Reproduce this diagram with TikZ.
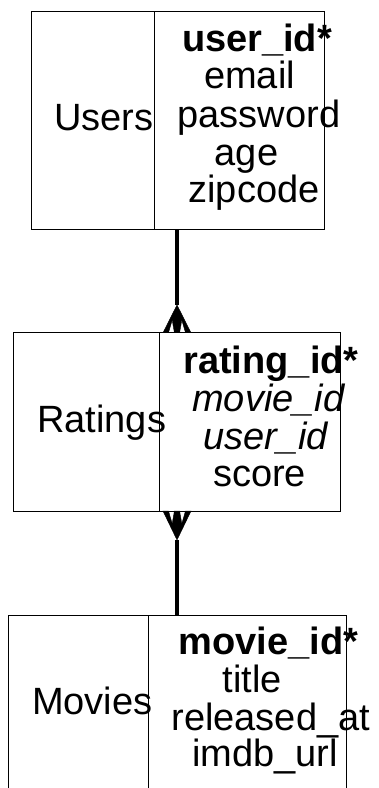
\documentclass[tikz,border=0pt]{standalone}
\usepackage{fontspec}
\setmainfont{Liberation Sans}
\begin{document}
\begin{tikzpicture}[x=1pt,y=-1pt,
  txt/.style={anchor=base,inner sep=0pt,font=\fontsize{38}{38}\selectfont},
  box/.style={draw,line width=1pt,inner sep=0pt},
  rel/.style={line width=3.2pt},
  crow/.style={fill=black,draw=black,line width=0.4pt,line join=miter}]
\useasboundingbox (0,0) rectangle (378,788);
\clip (0,0) rectangle (378,788);
% Users
\node[box,minimum width=293pt,minimum height=218pt] (users) at (177.5,120) {};
\draw[line width=1pt] (154,11) -- (154,229);
\node[txt] (uname) at (104,130) {Users};
\node[txt] (u1) at (257,51) {\bfseries user\_id*};
\node[txt] (u2) at (249.5,88) {email};
\node[txt] (u3) at (259,127) {password};
\node[txt] (u4) at (246.5,165) {age};
\node[txt] (u5) at (254,202) {zipcode};
% Ratings
\node[box,minimum width=327.4pt,minimum height=178.3pt] (ratings) at (177,421.85) {};
\draw[line width=1pt] (159.3,332.7) -- (159.3,511);
\node[txt] (rname) at (101.7,432.5) {Ratings};
\node[txt] (r1) at (271,373) {\bfseries rating\_id*};
\node[txt] (r2) at (268.3,411.5) {\itshape movie\_id};
\node[txt] (r3) at (265.8,449.8) {\itshape user\_id};
\node[txt] (r4) at (259.5,486.7) {score};
% Movies (cut off at bottom)
\coordinate (movtop) at (177,615);
\draw[line width=1pt] (8.3,800) |- (346.7,615) -- (346.7,800);
\draw[line width=1pt] (148.3,615) -- (148.3,800);
\node[txt] (mname) at (92.2,714.5) {Movies};
\node[txt] (m1) at (268.3,654.5) {\bfseries movie\_id*};
\node[txt] (m2) at (252.5,692) {title};
\node[txt] (m3) at (270.8,730.5) {released\_at};
\node[txt] (m4) at (265,766.7) {imdb\_url};
% connectors
\coordinate (us) at (177,229);
\coordinate (a1) at (177,305);
\draw[rel] (us) -- (a1);
\fill[crow] (a1) -- (191,332.7) -- (185.5,332.7) -- (181.8,320) -- (179.6,332.7)
  -- (174.4,332.7) -- (172.2,320) -- (168.5,332.7) -- (163,332.7) -- cycle;
\coordinate (a2) at (177,540);
\draw[rel] (a2) -- (movtop);
\fill[crow] (a2) -- (191,511) -- (185.5,511) -- (181.8,523.7) -- (179.6,511)
  -- (174.4,511) -- (172.2,523.7) -- (168.5,511) -- (163,511) -- cycle;
\end{tikzpicture}
\end{document}
